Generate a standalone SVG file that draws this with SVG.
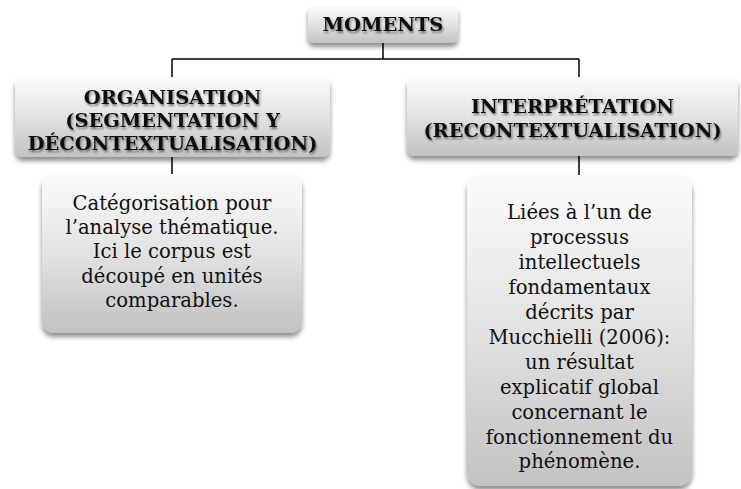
<svg xmlns="http://www.w3.org/2000/svg" width="741" height="489" viewBox="0 0 741 489">
<defs>
<linearGradient id="g" x1="0" y1="0" x2="0" y2="1">
<stop offset="0" stop-color="#fbfbfb"/>
<stop offset="0.5" stop-color="#e2e2e2"/>
<stop offset="1" stop-color="#c2c2c2"/>
</linearGradient>
<filter id="sh" x="-10%" y="-10%" width="120%" height="130%">
<feGaussianBlur in="SourceAlpha" stdDeviation="2.5"/>
<feOffset dx="0" dy="4" result="b"/>
<feComponentTransfer><feFuncA type="linear" slope="0.45"/></feComponentTransfer>
<feMerge><feMergeNode/><feMergeNode in="SourceGraphic"/></feMerge>
</filter>
<filter id="ts" x="-5%" y="-20%" width="110%" height="150%">
<feGaussianBlur in="SourceAlpha" stdDeviation="0.8"/>
<feOffset dx="1" dy="1.5"/>
<feComponentTransfer><feFuncA type="linear" slope="0.5"/></feComponentTransfer>
<feMerge><feMergeNode/><feMergeNode in="SourceGraphic"/></feMerge>
</filter>
</defs>
<style>
.box{fill:url(#g);filter:url(#sh);}
.h{font-family:"DejaVu Serif","Liberation Serif",serif;font-weight:bold;font-size:19.4px;fill:#111;text-anchor:middle;filter:url(#ts);}
.t{font-family:"DejaVu Serif","Liberation Serif",serif;font-size:19.6px;fill:#111;text-anchor:middle;}
.c{fill:none;stroke:#000;stroke-width:1.5;}
</style>
<g id="connectors">
<path class="c" d="M383,43 V59 M172,59 H579 M172,59 V77 M579,59 V77 M172,157 V174 M579,156 V175"/>
</g>
<g id="moments">
<rect class="box" x="308" y="6" width="150" height="37" rx="6"/>
<text class="h" x="383" y="31">MOMENTS</text>
</g>
<g id="organisation">
<rect class="box" x="15" y="77" width="315" height="80" rx="8"/>
<text class="h" x="172.5" y="104">ORGANISATION</text>
<text class="h" x="172.5" y="127">(SEGMENTATION Y</text>
<text class="h" x="172.5" y="150">DÉCONTEXTUALISATION)</text>
</g>
<g id="interpretation">
<rect class="box" x="407" y="77" width="331" height="79" rx="8"/>
<text class="h" x="572.5" y="113">INTERPRÉTATION</text>
<text class="h" x="572.5" y="137">(RECONTEXTUALISATION)</text>
</g>
<g id="categorisation">
<rect class="box" x="42" y="174" width="260" height="159" rx="12"/>
<text class="t" x="172" y="210">Catégorisation pour</text>
<text class="t" x="172" y="234">l’analyse thématique.</text>
<text class="t" x="172" y="258">Ici le corpus est</text>
<text class="t" x="172" y="283">découpé en unités</text>
<text class="t" x="172" y="307">comparables.</text>
</g>
<g id="liees">
<rect class="box" x="467" y="175" width="225" height="311" rx="14"/>
<text class="t" x="579.5" y="219">Liées à l’un de</text>
<text class="t" x="579.5" y="244">processus</text>
<text class="t" x="579.5" y="269">intellectuels</text>
<text class="t" x="579.5" y="294">fondamentaux</text>
<text class="t" x="579.5" y="319">décrits par</text>
<text class="t" x="579.5" y="344">Mucchielli (2006):</text>
<text class="t" x="579.5" y="369">un résultat</text>
<text class="t" x="579.5" y="394">explicatif global</text>
<text class="t" x="579.5" y="419">concernant le</text>
<text class="t" x="579.5" y="444">fonctionnement du</text>
<text class="t" x="579.5" y="468">phénomène.</text>
</g>
</svg>
